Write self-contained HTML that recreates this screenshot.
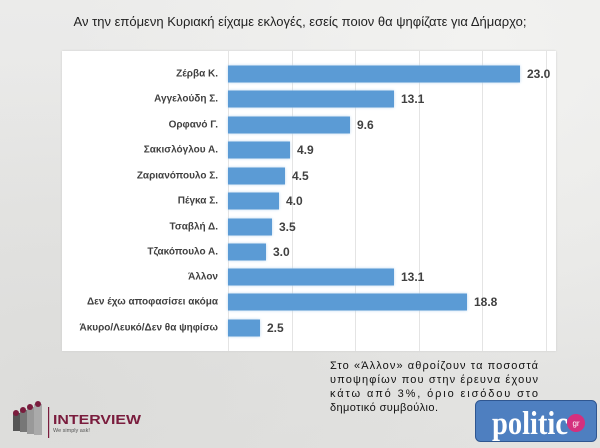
<!DOCTYPE html>
<html><head><meta charset="utf-8"><style>
body{margin:0;width:600px;height:448px;overflow:hidden;background:#e6e6e4;font-family:"Liberation Sans",sans-serif;position:relative}
.bg{position:absolute;inset:0;background:radial-gradient(ellipse at 80% 10%,#f2f2f0,transparent 60%),radial-gradient(ellipse at 10% 90%,#dcdcda,transparent 60%),linear-gradient(#ebebea,#e2e2e0)}
.t{position:absolute;left:0;width:600px;top:14px;text-align:center;font-size:13px;color:#222}
.panel{position:absolute;left:62px;top:51px;width:494px;height:300px;background:#fff;box-shadow:0 0 2px #ccc}
.g{position:absolute;top:0;height:300px;width:1px;background:#e4e4e4}
.lab{position:absolute;right:382px;font-size:10px;color:#404040;font-weight:bold;text-align:right;white-space:nowrap;transform:translateY(-50%)}
.bar{position:absolute;left:228px;height:17px;background:#5b9bd5;box-shadow:0 0 3px #bcd6ef;transform:translateY(-50%)}
.v{position:absolute;font-size:12px;font-weight:bold;color:#404040;transform:translateY(-50%)}
</style></head><body><div class="bg"></div>
<div class="t">Αν την επόμενη Κυριακή είχαμε εκλογές, εσείς ποιον θα ψηφίζατε για Δήμαρχο;</div>
<div class="panel"></div>
<div class="g" style="left:228px;top:51px"></div><div class="g" style="left:292px;top:51px"></div><div class="g" style="left:355px;top:51px"></div><div class="g" style="left:419px;top:51px"></div><div class="g" style="left:482px;top:51px"></div><div class="g" style="left:546px;top:51px"></div>
<div class="lab" style="top:74px">Ζέρβα Κ.</div><div class="bar" style="top:74px;width:292px"></div><div class="v" style="top:74px;left:527px">23.0</div>
<div class="lab" style="top:99px">Αγγελούδη Σ.</div><div class="bar" style="top:99px;width:166px"></div><div class="v" style="top:99px;left:401px">13.1</div>
<div class="lab" style="top:125px">Ορφανό Γ.</div><div class="bar" style="top:125px;width:122px"></div><div class="v" style="top:125px;left:357px">9.6</div>
<div class="lab" style="top:150px">Σακισλόγλου Α.</div><div class="bar" style="top:150px;width:62px"></div><div class="v" style="top:150px;left:297px">4.9</div>
<div class="lab" style="top:176px">Ζαριανόπουλο Σ.</div><div class="bar" style="top:176px;width:57px"></div><div class="v" style="top:176px;left:292px">4.5</div>
<div class="lab" style="top:201px">Πέγκα Σ.</div><div class="bar" style="top:201px;width:51px"></div><div class="v" style="top:201px;left:286px">4.0</div>
<div class="lab" style="top:227px">Τσαβλή Δ.</div><div class="bar" style="top:227px;width:44px"></div><div class="v" style="top:227px;left:279px">3.5</div>
<div class="lab" style="top:252px">Τζακόπουλο Α.</div><div class="bar" style="top:252px;width:38px"></div><div class="v" style="top:252px;left:273px">3.0</div>
<div class="lab" style="top:277px">Άλλον</div><div class="bar" style="top:277px;width:166px"></div><div class="v" style="top:277px;left:401px">13.1</div>
<div class="lab" style="top:302px">Δεν έχω αποφασίσει ακόμα</div><div class="bar" style="top:302px;width:239px"></div><div class="v" style="top:302px;left:474px">18.8</div>
<div class="lab" style="top:328px">Άκυρο/Λευκό/Δεν θα ψηφίσω</div><div class="bar" style="top:328px;width:32px"></div><div class="v" style="top:328px;left:267px">2.5</div>
<svg style="position:absolute;left:0;top:0" width="600" height="448" font-family="Liberation Sans, sans-serif" font-size="11" fill="#111">
<text x="330" y="369" textLength="208" lengthAdjust="spacing">Στο «Άλλον» αθροίζουν τα ποσοστά</text>
<text x="330" y="383" textLength="208" lengthAdjust="spacing">υποψηφίων που στην έρευνα έχουν</text>
<text x="330" y="397" textLength="208" lengthAdjust="spacing">κάτω από 3%, όριο εισόδου στο</text>
<text x="330" y="411" textLength="108" lengthAdjust="spacing">δημοτικό συμβούλιο.</text>
<g><rect x="13" y="413" width="7" height="18" fill="#555"/><rect x="20" y="410" width="7" height="22" fill="#777"/><rect x="27" y="407" width="7" height="27" fill="#999"/><rect x="34" y="404" width="8" height="31" fill="#aaa"/><circle cx="16" cy="413" r="3" fill="#7a1c3d"/><circle cx="23" cy="410" r="3" fill="#7a1c3d"/><circle cx="30" cy="407" r="3" fill="#7a1c3d"/><circle cx="38" cy="404" r="3" fill="#7a1c3d"/></g>
<rect x="48" y="407" width="1.2" height="31" fill="#7a1c3d"/>
<text x="53" y="424" font-size="13" font-weight="bold" fill="#7a1c3d" textLength="88" lengthAdjust="spacingAndGlyphs">INTERVIEW</text>
<text x="53" y="432" font-size="5.5" fill="#555">We simply ask!</text>
<rect x="475.5" y="400.5" width="121" height="41" rx="5" fill="#4e7fc0" stroke="#2f5690"/>
<text x="492" y="434" font-family="Liberation Serif, serif" font-size="33" font-weight="bold" fill="#fff" textLength="76" lengthAdjust="spacingAndGlyphs">politic</text>
<circle cx="576" cy="423" r="9" fill="#d4307e"/>
<text x="576" y="426" font-size="8" fill="#fff" text-anchor="middle">gr</text>
</svg>
</body></html>
